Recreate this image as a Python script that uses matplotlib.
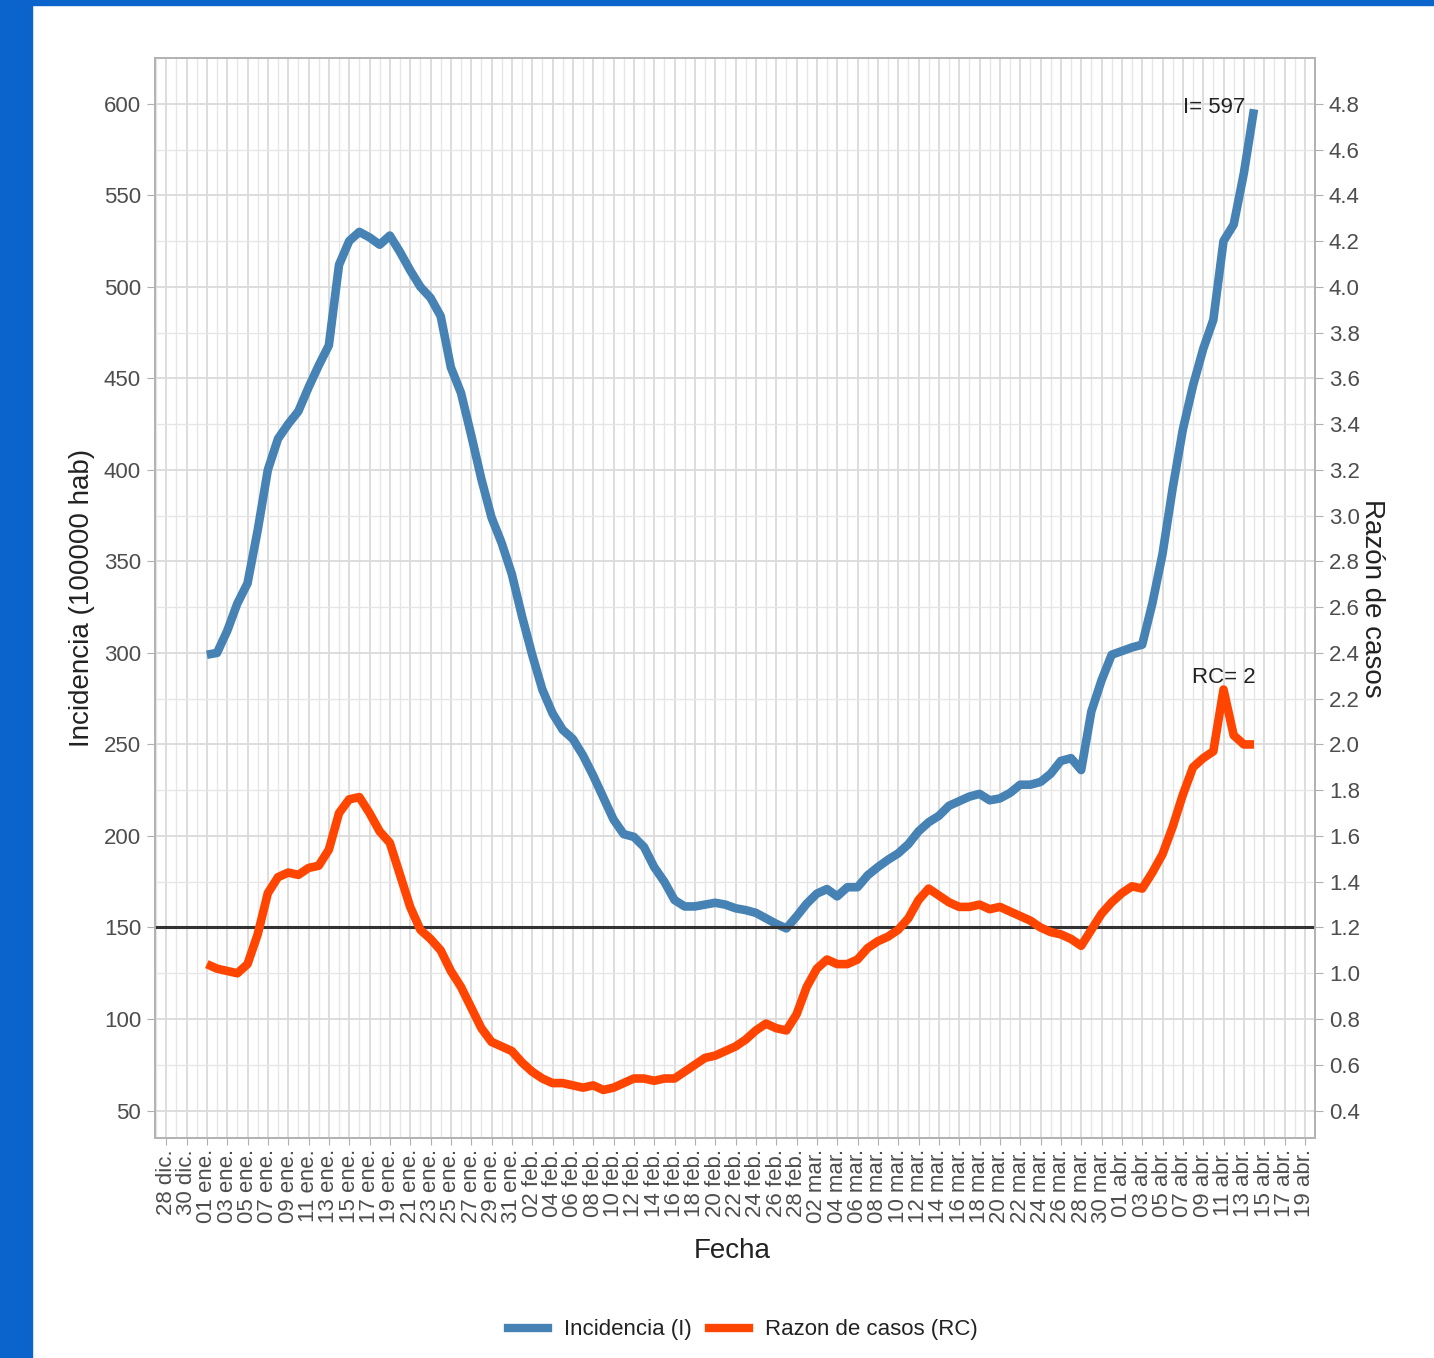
import numpy as np
import pandas as pd
import matplotlib
matplotlib.use("Agg")
import matplotlib.pyplot as plt
import matplotlib.dates as mdates
from matplotlib.lines import Line2D
from matplotlib.patches import Rectangle

plt.rcParams['font.family'] = ['Liberation Sans', 'DejaVu Sans']

# datos (01 ene. - 14 abr.)
fecha_inicio = '2021-01-01'
incidencia = [299, 300, 312, 327, 338, 367, 400, 417, 425, 432,
              445, 457, 468, 512, 525, 530, 527, 523, 528, 519,
              509, 500, 494, 484, 456, 442, 419, 395, 374, 360,
              343, 320, 299, 280, 267, 258, 253, 244, 233, 221,
              209, 201, 199.5, 194, 183, 175, 165, 161.5, 161.5, 162.5,
              163.5, 162.5, 160.5, 159.5, 158, 155, 152, 149.5, 156, 163,
              168.5, 171, 167, 172, 172, 178.5, 183, 187, 190.5, 195.5,
              202.5, 207.5, 211, 216.5, 219, 221.5, 223, 219.5, 220.5, 223.5,
              228, 228, 229.5, 234, 241, 242.5, 236, 268, 285, 299,
              301, 303, 304.5, 327, 354, 390, 422, 446, 466, 482,
              525, 534, 562, 597]
razon_casos = [1.04, 1.02, 1.01, 1.00, 1.04, 1.17, 1.35, 1.42, 1.44, 1.43,
               1.46, 1.47, 1.54, 1.70, 1.76, 1.77, 1.70, 1.62, 1.57, 1.43,
               1.29, 1.19, 1.15, 1.10, 1.01, 0.94, 0.85, 0.76, 0.70, 0.68,
               0.66, 0.61, 0.57, 0.54, 0.52, 0.52, 0.51, 0.50, 0.51, 0.49,
               0.50, 0.52, 0.54, 0.54, 0.53, 0.54, 0.54, 0.57, 0.60, 0.63,
               0.64, 0.66, 0.68, 0.71, 0.75, 0.78, 0.76, 0.75, 0.82, 0.94,
               1.02, 1.06, 1.04, 1.04, 1.06, 1.11, 1.14, 1.16, 1.19, 1.24,
               1.32, 1.37, 1.34, 1.31, 1.29, 1.29, 1.30, 1.28, 1.29, 1.27,
               1.25, 1.23, 1.20, 1.18, 1.17, 1.15, 1.12, 1.19, 1.26, 1.31,
               1.35, 1.38, 1.37, 1.44, 1.52, 1.64, 1.78, 1.90, 1.94, 1.97,
               2.24, 2.04, 2.00, 2.00]
umbral_rc = 1.2
escala = 125  # incidencia = 125 * razon de casos

meses = {12: 'dic', 1: 'ene', 2: 'feb', 3: 'mar', 4: 'abr'}

fechas = pd.date_range(fecha_inicio, periods=len(incidencia), freq='D')
ticks_x = pd.date_range('2020-12-28', '2021-04-19', freq='2D')
dias = pd.date_range('2020-12-27', '2021-04-20', freq='D')

azul = '#4682B4'
naranja = '#FF4500'
gris_txt = '#4D4D4D'

fig = plt.figure(figsize=(14.34, 13.58), dpi=100)
fig.patches.append(Rectangle((0, 0), 32 / 1434, 1, transform=fig.transFigure,
                             color='#0A64CC', zorder=0))
fig.patches.append(Rectangle((0, 1 - 5 / 1358), 1, 5 / 1358, transform=fig.transFigure,
                             color='#0A64CC', zorder=0))

ax = fig.add_axes([155 / 1434, 1 - 1138 / 1358, 1160 / 1434, 1080 / 1358])
ax2 = ax.twinx()

ylim = (35, 625)
ax.set_ylim(ylim)
ax2.set_ylim(ylim[0] / escala, ylim[1] / escala)

t0 = mdates.date2num(pd.Timestamp(fecha_inicio))
ax.set_xlim(t0 - 5.1, t0 + 108.2)

# rejilla
ax.set_xticks(ticks_x)
ax.set_xticks(dias, minor=True)
ax.set_yticks(np.arange(50, 601, 50))
ax.set_yticks(np.arange(75, 601, 50), minor=True)
ax.grid(which='major', color='#DADADA', lw=1.3)
ax.grid(which='minor', color='#E6E6E6', lw=1.0)
ax.set_axisbelow(True)
ax.tick_params(which='minor', length=0)

ax2.set_yticks(np.round(np.arange(0.4, 4.81, 0.2), 1))
ax2.yaxis.set_major_formatter(plt.FuncFormatter(lambda v, p: f"{v:.1f}"))

ax.xaxis.set_major_formatter(plt.FuncFormatter(
    lambda v, p: f"{mdates.num2date(v).day:02d} {meses[mdates.num2date(v).month]}."))

ax.tick_params(axis='x', which='major', labelrotation=90, labelsize=16,
               labelcolor=gris_txt, color='#B0B0B0', length=5, pad=3)
ax.tick_params(axis='y', which='major', labelsize=16, labelcolor=gris_txt,
               color='#B0B0B0', length=6, pad=4)
ax2.tick_params(axis='y', labelsize=16, labelcolor=gris_txt, color='#B0B0B0',
                length=6, pad=4)

for a in (ax, ax2):
    for s in a.spines.values():
        s.set_color('#B3B3B3')
        s.set_linewidth(1.3)

# lineas
ax2.axhline(umbral_rc, color='#333333', lw=2.2, zorder=1)
ax.plot(fechas, incidencia, color=azul, lw=6.2, solid_capstyle='butt',
        solid_joinstyle='round', zorder=3)
ax2.plot(fechas, razon_casos, color=naranja, lw=6.2, solid_capstyle='butt',
         solid_joinstyle='round', zorder=3)

ax.annotate(f"I= {incidencia[-1]}", (fechas[-1], incidencia[-1]),
            xytext=(-6, 1), textcoords='offset points', ha='right', va='center',
            fontsize=16, color='#222222')
i_max = int(np.argmax(razon_casos))
ax2.annotate(f"RC= {razon_casos[-1]:g}", (fechas[i_max], razon_casos[i_max]),
             xytext=(0, 1), textcoords='offset points', ha='center', va='bottom',
             fontsize=16, color='#222222')

ax.set_ylabel('Incidencia (100000 hab)', fontsize=20, color='#222222', va='center')
ax.yaxis.set_label_coords(-0.063, 0.5)
ax2.set_ylabel('Razón de casos', fontsize=20, color='#222222', rotation=270, va='center')
ax2.yaxis.set_label_coords(1.049, 0.5)
ax.set_xlabel('Fecha', fontsize=20, color='#222222', va='center')
ax.xaxis.set_label_coords(0.498, -0.1046)

handles = [Line2D([], [], color=azul, lw=6), Line2D([], [], color=naranja, lw=6)]
fig.legend(handles, ['Incidencia (I)', 'Razon de casos (RC)'], loc='center',
           bbox_to_anchor=(743 / 1434, 1 - 1330 / 1358), ncol=2, frameon=False,
           fontsize=16, handlelength=1.8, handletextpad=0.7, columnspacing=0.8,
           labelcolor='#222222')

fig.savefig('out.png', dpi=100, facecolor='white')
